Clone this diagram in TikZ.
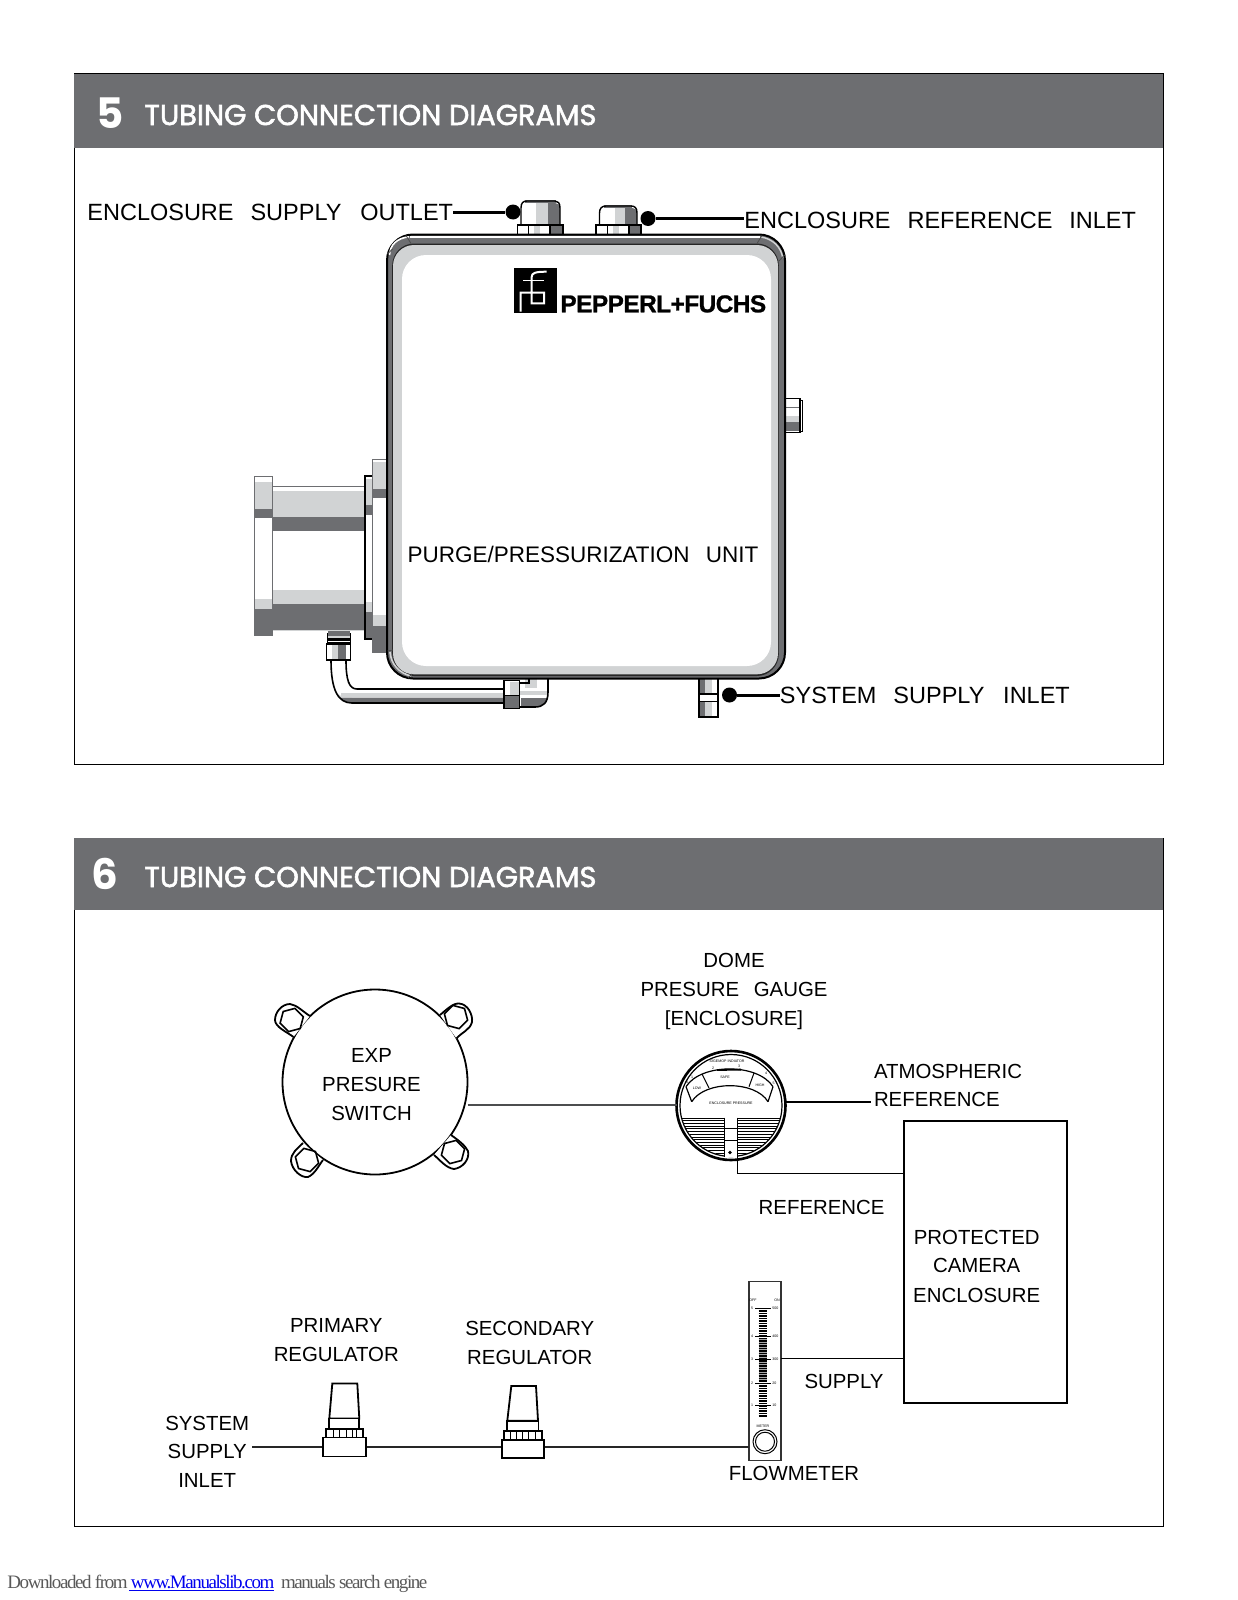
\documentclass[tikz,border=0pt]{standalone}
\usepackage{fontspec}
\setmainfont{Liberation Sans}
\newfontfamily\headfont{Poppins}
\newfontfamily\headfontB[FakeBold=2]{Poppins}
\newfontfamily\footfont{Liberation Serif}
\usetikzlibrary{calc}
\definecolor{dk}{HTML}{6D6E71}
\definecolor{lt}{HTML}{D1D3D4}
\definecolor{linkblue}{HTML}{0000EE}
\newcommand\Wsp{\hspace{0.72em}}
\newcommand\bnd[5]{\fill[#5] (#1,#3) rectangle (#2,#4);}
\tikzset{
  lbl/.style={font=\fontsize{10.2}{12}\selectfont,inner sep=0pt,text=black,align=center},
  lbll/.style={lbl,anchor=west,align=left},
  lbltop/.style={lbll,font=\fontsize{11.75}{14}\selectfont},
  framebox/.style={draw=black,line width=0.5pt},
  headbar/.style={fill=dk,draw=none},
  headt/.style={font=\headfontB\fontsize{14.35}{16}\selectfont,text=white,anchor=west,inner sep=0pt},
  headn/.style={font=\headfont\bfseries\fontsize{21}{24}\selectfont,text=white,anchor=center,inner sep=0pt},
  callout/.style={draw=black,line width=1.5pt},
  dotmark/.style={circle,fill=black,minimum size=7.5pt,inner sep=0pt},
  tube/.style={draw=black,line width=0.8pt},
  thin/.style={draw=black,line width=0.55pt},
  pipe/.style={draw=black!85,line width=1.3pt},
  part/.style={draw=black,line width=0.9pt,fill=white},
  tiny/.style={font=\fontsize{1.8}{2.2}\selectfont,inner sep=0pt,text=black},
}
\begin{document}
\begin{tikzpicture}[x=0.5pt,y=-0.5pt]
\path[use as bounding box,fill=white] (0,0) rectangle (1237,1600);

% ---------- frames
\draw[framebox] (74,74) rectangle (1163,764.5);
\fill[headbar] (74,74) rectangle (1163,148);
\node[headn] (n5) at (110.5,113.5) {5};
\node[headt] (t5) at (144,115) {TUBING CONNECTION DIAGRAMS};
\draw[framebox] (74,838) rectangle (1163,1526.5);
\fill[headbar] (74,838) rectangle (1163,910);
\node[headn] (n6) at (105,874) {6};
\node[headt] (t6) at (144,877) {TUBING CONNECTION DIAGRAMS};

% ---------- unit: left mounting parts
\bnd{254.5}{272.7}{476.8}{635.7}{white}
\bnd{254.5}{272.7}{481.5}{508.6}{lt}
\bnd{254.5}{272.7}{508.6}{518}{dk}
\bnd{254.5}{272.7}{598.5}{608.7}{lt}
\bnd{254.5}{272.7}{608.7}{635.7}{dk}
\draw[dk,line width=0.6pt] (254.5,476.8) rectangle (272.7,635.7);
\bnd{272.7}{365}{486}{631.3}{white}
\bnd{272.7}{365}{491}{517}{lt}
\bnd{272.7}{365}{517}{530.9}{dk}
\bnd{272.7}{365}{590}{604.3}{lt}
\bnd{272.7}{365}{604.3}{629.6}{dk}
\bnd{272.7}{365}{629.6}{631.3}{lt}
\draw[dk,line width=0.5pt] (272.7,486) -- (365,486);
\bnd{365}{372.7}{476}{639}{white}
\bnd{365}{372.7}{479}{505.2}{lt}
\bnd{365}{372.7}{505.2}{515.3}{dk}
\bnd{365}{372.7}{601.9}{612}{lt}
\bnd{365}{372.7}{612}{639}{dk}
\draw[black,line width=0.7pt] (365,476) rectangle (372.7,639);
\bnd{372.7}{387}{459.2}{652.3}{white}
\bnd{372.7}{387}{462.2}{488.6}{lt}
\bnd{372.7}{387}{488.6}{498.4}{dk}
\bnd{372.7}{387}{615.4}{625.6}{lt}
\bnd{372.7}{387}{625.6}{652.3}{dk}
\draw[dk,line width=0.6pt] (372.7,459.2) rectangle (387,652.3);

% ---------- unit: tube and fittings below
\fill[white] (331,660) .. controls (331,690) and (338,703) .. (352,703) -- (504,703) -- (504,689) -- (357,689) .. controls (349,689) and (346,680) .. (346,660) -- cycle;
\fill[lt] (341,693) -- (504,693) -- (504,697) -- (341,697) -- cycle;
\fill[lt] (335,690) .. controls (338,696) and (343,698) .. (352,697) -- (340,697) -- cycle;
\fill[dk] (340,697.5) -- (504,697.5) -- (504,703) -- (352,703) .. controls (346,703) and (342,701) .. (340,697.5) -- cycle;
\draw[tube] (331,660) .. controls (331,690) and (338,703) .. (352,703) -- (504,703);
\draw[tube] (346,660) .. controls (346,680) and (349,689) .. (357,689) -- (504,689);
\bnd{327.5}{350}{631}{636}{dk}
\bnd{327.5}{350}{636}{638}{lt}
\bnd{327.5}{350}{638}{640.5}{black}
\bnd{327.5}{350}{640.5}{642}{white}
\bnd{327.5}{350}{642}{644}{black}
\bnd{326.5}{350.5}{644}{660}{white}
\bnd{332}{338}{644}{660}{lt}
\bnd{338}{346}{644}{660}{dk}
\draw[black,line width=0.7pt] (326.5,644) rectangle (350.5,660);
\draw[black,line width=0.5pt] (327.5,633) -- (327.5,644) (350,633) -- (350,644);

% elbow
\fill[white] (519,679) -- (548,679) -- (548,692) .. controls (548,703) and (543,707) .. (535,707) -- (519,707) -- cycle;
\fill[lt] (525,679) rectangle (537,688);
\fill[lt] (519,691) -- (547,691) -- (547,695) -- (519,695) -- cycle;
\fill[dk] (521,698) -- (547.5,698) .. controls (546,703) and (542,706.5) .. (535,706.5) -- (521,706.5) -- cycle;
\draw[tube] (548,679) -- (548,692) .. controls (548,703) and (543,707) .. (535,707) -- (519,707);
\draw[black,line width=1pt] (519,683) -- (529,683) -- (529,679);
\bnd{504}{519.3}{680.5}{708.5}{white}
\bnd{510}{519.3}{682}{695}{lt}
\bnd{504}{519.3}{695}{708.5}{dk}
\draw[black,line width=0.7pt] (504,680.5) rectangle (519.3,708.5);
\draw[black,line width=0.5pt] (504,695) -- (519.3,695);

% bottom fitting
\bnd{699}{718}{679}{717}{white}
\bnd{699}{705}{679}{693}{dk}
\bnd{705}{712}{679}{693}{lt}
\bnd{699}{705}{702}{717}{dk}
\bnd{705}{712}{702}{717}{lt}
\bnd{699}{718}{695.5}{700}{white}
\draw[black,line width=0.6pt] (699,679) -- (699,717) -- (718,717) -- (718,679);
\draw[black,line width=0.9pt] (699,694) -- (718,694) (699,701.5) -- (718,701.5);

% side nub
\bnd{786}{800}{398}{433}{white}
\bnd{786}{800}{416}{422}{lt}
\bnd{786}{800}{422}{431}{dk}
\draw[dk,line width=0.4pt] (786,407) -- (800,407);
\draw[black,line width=0.7pt] (786,398.5) -- (800,398.5) -- (800,432.5) -- (786,432.5);
\draw[black,line width=0.4pt] (800,400) -- (802,400) -- (802,431) -- (800,431);

% ---------- unit: glands on top
\fill[white] (521,225) -- (521,208) .. controls (521,203) and (523,201) .. (527,201) -- (555,201) .. controls (558,201) and (560,203) .. (560,208) -- (560,225) -- cycle;
\fill[lt] (536,203) rectangle (548,225);
\fill[dk] (548,203) -- (555,203) .. controls (558,203) and (560,205) .. (560,208) -- (560,225) -- (548,225) -- cycle;
\fill[dk] (525,200) rectangle (556,203);
\draw[black,line width=0.7pt] (521,225) -- (521,208) .. controls (521,203) and (523,201) .. (527,201) -- (555,201) .. controls (558,201) and (560,203) .. (560,208) -- (560,225);
\bnd{517.5}{563}{225}{234}{white}
\bnd{550}{563}{225}{234}{dk}
\bnd{534}{540}{225}{234}{lt}
\draw[black,line width=0.6pt] (517.5,234) -- (517.5,225) -- (563,225) -- (563,234) (528.5,225) -- (528.5,234) (550,225) -- (550,234);

\fill[white] (599.5,225) -- (599.5,213) .. controls (599.5,208) and (602,206) .. (606,206) -- (631,206) .. controls (635,206) and (637,208) .. (637,213) -- (637,225) -- cycle;
\fill[lt] (615,208) rectangle (625,225);
\fill[dk] (625,208) -- (631,208) .. controls (635,208) and (637,210) .. (637,213) -- (637,225) -- (625,225) -- cycle;
\fill[dk] (604,205) rectangle (632,208);
\draw[black,line width=0.7pt] (599.5,225) -- (599.5,213) .. controls (599.5,208) and (602,206) .. (606,206) -- (631,206) .. controls (635,206) and (637,208) .. (637,213) -- (637,225);
\bnd{596}{641}{225}{234}{white}
\bnd{629}{641}{225}{234}{dk}
\bnd{613}{619}{225}{234}{lt}
\draw[black,line width=0.6pt] (596,234) -- (596,225) -- (641,225) -- (641,234) (607.5,225) -- (607.5,234) (629,225) -- (629,234);

% ---------- unit: enclosure body
\draw[fill=dk,draw=black,line width=1pt,rounded corners=13pt] (387,234.5) rectangle (785,678.5);
\fill[white] (410,236.3) rectangle (760,238.3);
\fill[black!85,rounded corners=11pt] (392.2,243.5) rectangle (778.8,676);
\fill[lt,rounded corners=10.5pt] (393,245) rectangle (778,674.3);
\fill[white,rounded corners=12pt] (402,255) rectangle (771,666);
\draw[white,line width=0.8pt] (389.5,255) .. controls (390,245) and (397,238) .. (409,236.8);
\draw[lt,line width=0.7pt] (761,237) .. controls (773,239) and (781,247) .. (782.8,258);
\draw[lt,line width=0.8pt] (390,652) .. controls (391,664) and (399,673) .. (411,676);
% corner seams
\draw[black!70,line width=0.4pt] (406,235.5) -- (411,243.5) (387.5,254) -- (392.5,249);
\draw[black!70,line width=0.4pt] (762,235.5) -- (757,243.5) (784.5,255) -- (779,261);
\draw[black!70,line width=0.4pt] (387.5,651) -- (393,650) (408,678) -- (412,674);

% ---------- unit: logo
\fill[black] (513.5,268) rectangle (556.7,313);
\draw[white,line width=1pt] (520.7,311.5) -- (520.7,292.5) -- (544,292.5) -- (544,303.3) -- (531.7,303.3) -- (531.7,277) .. controls (531.7,273) and (535,271.7) .. (546.7,271.7);
\draw[white,line width=0.9pt] (523,280.5) -- (544,280.5);
\node[inner sep=0pt,anchor=base west,font=\bfseries\fontsize{12.2}{15}\selectfont] (brand) at (560,312.3) {\addfontfeature{LetterSpace=-2.2,FakeBold=1}PEPPERL+FUCHS};

% ---------- unit: labels
\coordinate (dotA) at (513,212);
\coordinate (dotB) at (648,218.5);
\coordinate (dotC) at (729.5,695);
\node[lbltop] (tA) at (87,212) {ENCLOSURE\Wsp SUPPLY\hspace{0.8em}OUTLET};
\node[lbltop] (tB) at (744,220.5) {ENCLOSURE\Wsp REFERENCE\Wsp INLET};
\node[lbltop] (tC) at (779.5,695) {SYSTEM\Wsp SUPPLY\hspace{0.8em}INLET};
\node[lbl,font=\fontsize{11.25}{14}\selectfont] (tU) at (583,554) {PURGE/PRESSURIZATION\Wsp UNIT};
\node[dotmark] (mA) at (dotA) {};
\node[dotmark] (mB) at (dotB) {};
\node[dotmark] (mC) at (dotC) {};
\draw[callout] (tA.east) -- (mA);
\draw[callout] (mB) -- (tB.west |- mB);
\draw[callout] (mC) -- (tC.west);

% ---------- switch
\node[circle,draw=black,line width=0.9pt,minimum size=92.5pt,inner sep=0pt] (sw) at (375,1082) {};
\foreach \p in {
 {(310,1016) .. controls (302,1011) and (297,1005) .. (290,1004) .. controls (282,1004) and (275,1012) .. (275,1020) .. controls (275,1027) and (287,1032) .. (293.5,1037)},
 {(440,1015) .. controls (446,1010) and (453,1003) .. (459,1003.5) .. controls (468,1004) and (473,1015) .. (472,1022) .. controls (470,1030) and (462,1032) .. (456.5,1038.5)},
 {(451,1135) .. controls (458,1140) and (465,1145) .. (468,1151) .. controls (470,1160) and (462,1168) .. (454,1169) .. controls (446,1168) and (440,1160) .. (434,1155)},
 {(303,1143) .. controls (297,1149) and (291,1153) .. (291,1161) .. controls (292,1170) and (301,1178) .. (308,1177) .. controls (315,1174) and (319,1165) .. (323,1160)}}{
  \fill[white] \p -- cycle;
  \draw[black,line width=0.9pt] \p;
}
\foreach \cx/\cy/\rot in {291.7/1020/15,456/1017/-15,453/1152/15,307/1160/-15}{
  \draw[black,line width=0.8pt,rotate around={\rot:(\cx,\cy)}] (\cx+12,\cy) -- (\cx+6,\cy+10.4) -- (\cx-6,\cy+10.4) -- (\cx-12,\cy) -- (\cx-6,\cy-10.4) -- (\cx+6,\cy-10.4) -- cycle;
}
\node[lbl] (ts1) at (371.5,1055.5) {EXP};
\node[lbl] (ts2) at (371.5,1084.3) {PRESURE};
\node[lbl] (ts3) at (371.5,1113.5) {SWITCH};

% ---------- gauge
\node[circle,draw=black,line width=1.3pt,fill=white,minimum size=54.5pt,inner sep=0pt] (g) at (731,1105.5) {};
\begin{scope}
\clip (731,1105.5) circle[radius=50.5];
\foreach \yy in {1118,1120.7,...,1160}{\draw[black,line width=0.35pt] (675,\yy) -- (785,\yy);}
\end{scope}
\draw[black,line width=0.6pt] (731,1105.5) circle[radius=51];
\draw[black,line width=0.6pt] (681,1118.5) -- (781,1118.5);
\fill[white] (724,1117.5) rectangle (737,1157);
\draw[black,line width=0.5pt] (724,1117.5) -- (724,1157) (737,1117.5) -- (737,1157) (724,1128) -- (737,1128) (724,1140) -- (737,1140);
\fill[black] (730,1152.5) circle[radius=1.8];
% dial
\draw[black,line width=0.6pt] (686,1086.7) .. controls (701,1063) and (758,1063) .. (773,1086.7);
\draw[black,line width=0.6pt] (691.7,1101.7) .. controls (705,1080.3) and (755,1080.3) .. (768,1101.7);
\draw[black,line width=0.6pt] (686,1086.7) -- (691.7,1101.7) (773,1086.7) -- (768,1101.7);
\draw[black,line width=0.5pt] (702,1074) -- (709,1088) (754,1073) -- (749,1086.7);
\draw[black,line width=0.9pt] (717,1070) -- (741,1069.6);
\node[tiny] (g0) at (727,1061) {IDGEMOP INDIATOR};
\node[tiny] (g1) at (725,1077) {SAFE};
\node[tiny] (g2) at (697,1088) {LOW};
\node[tiny] (g3) at (760,1085.5) {HIGH};
\node[tiny] (g4) at (731,1103) {ENCLOSURE PRESSURE};
\node[tiny] at (692,1077) {1};
\node[tiny] at (713,1068) {2};
\node[tiny] at (739,1066) {3};
\node[tiny] at (766,1073) {4};
\node[tiny] at (773.5,1083.5) {5};
\node[tiny] at (687,1082) {0};

\node[lbl] (dm1) at (734,960.5) {DOME};
\node[lbl] (dm2) at (734,989) {PRESURE\Wsp GAUGE};
\node[lbl] (dm3) at (734,1020) {[ENCLOSURE]};

% ---------- enclosure
\node[draw=black,line width=1pt,minimum width=81.5pt,minimum height=141pt,inner sep=0pt] (pc) at (985,1262) {};
\node[lbl] (pc1) at (976.7,1237) {PROTECTED};
\node[lbl] (pc2) at (976.7,1265.6) {CAMERA};
\node[lbl] (pc3) at (976.7,1295) {ENCLOSURE};

\node[lbll] (at1) at (873.6,1071) {ATMOSPHERIC};
\node[lbll] (at2) at (873.6,1099) {REFERENCE};
\node[lbl] (rf) at (821.6,1207.5) {REFERENCE};
\node[lbl] (sp) at (844,1381.5) {SUPPLY};
\node[lbl] (fm) at (794,1473) {FLOWMETER};
\node[lbl] (s1) at (529.7,1328) {SECONDARY};
\node[lbl] (s2) at (529.7,1357) {REGULATOR};
\node[lbl] (p1) at (336.3,1325) {PRIMARY};
\node[lbl] (p2) at (336.3,1354) {REGULATOR};
\node[lbl] (si1) at (207.2,1423) {SYSTEM};
\node[lbl] (si2) at (207.2,1451.5) {SUPPLY};
\node[lbl] (si3) at (207.2,1480) {INLET};

% ---------- flowmeter
\node[draw=black!80,line width=0.7pt,fill=white,minimum width=16pt,minimum height=89.5pt,inner sep=0pt] (fl) at (765,1371) {};
\fill[dk,opacity=0.6] (758.5,1338) rectangle (767,1381);
\foreach \yy in {1308.5,1311,...,1417}{\draw[black,line width=0.55pt] (758.5,\yy) -- (767,\yy);}
\foreach \yy/\a/\b in {1308/5/500,1336/4/400,1359.5/3/300,1383/2/20,1405/1/10}{
  \draw[black,line width=0.5pt] (755,\yy) -- (771,\yy);
  \node[tiny] at (752,\yy) {\a};
  \node[tiny,anchor=west] at (772,\yy) {\b};
}
\node[tiny] at (753,1300.5) {OFF};
\node[tiny] at (777,1300.5) {ON};
\node[tiny] at (763,1426) {METER};
\draw[black,line width=0.5pt] (765,1441.7) circle[radius=12];
\draw[black,line width=0.5pt] (765,1441.7) circle[radius=9.5];

% ---------- regulators
\draw[part] (332.3,1383.5) -- (357.3,1383.5) -- (359.3,1418.5) -- (329.3,1418.5) -- cycle;
\draw[part] (329.3,1418.5) rectangle (359.3,1429);
\draw[part] (326.3,1429) rectangle (362.7,1437.5);
\foreach \xx in {333,339,346,352,356}{\draw[black,line width=0.5pt] (\xx,1429) -- (\xx,1437.5);}
\node[part,minimum width=21.2pt,minimum height=9.5pt,inner sep=0pt] (r1) at (344.5,1447) {};
\draw[part] (511.3,1386) -- (536,1386) -- (538,1420.7) -- (507.3,1420.7) -- cycle;
\draw[part] (507.3,1420.7) rectangle (538.5,1431.3);
\draw[part] (504.3,1431.3) rectangle (541.7,1440.3);
\foreach \xx in {510,516,522,528,535}{\draw[black,line width=0.5pt] (\xx,1431.3) -- (\xx,1440.3);}
\node[part,minimum width=20.7pt,minimum height=9pt,inner sep=0pt] (r2) at (523,1449.3) {};

% ---------- connectors
\coordinate (swo) at (467.5,1105);
\coordinate (gl) at (677,1105);
\coordinate (gr) at (786,1102);
\coordinate (gb) at (737.5,1157);
\coordinate (fr) at (781,1358.5);
\coordinate (fl2) at (749,1447);
\coordinate (mainstart) at (252,1447);
\coordinate (atmend) at (871,1102);
\draw[thin,draw=dk!70!black] (swo) -- (gl);
\draw[thin] (gr) -- (atmend);
\draw[thin] (gb) |- (pc.west |- 0,1173.5);
\draw[thin] (fr) -- (pc.west |- fr);
\draw[pipe] (mainstart) -- (r1.west);
\draw[pipe] (r1.east) -- (r2.west |- r1.east);
\draw[pipe] (r2.east |- r1.east) -- (fl2);

% ---------- footer
\node[inner sep=0pt,anchor=base west,font=\footfont\fontsize{9.5}{11}\selectfont,text=black!65] (foot) at (7,1588.5) {\addfontfeature{LetterSpace=-7.5}Downloaded from \textcolor{linkblue}{www.Manualslib.com}\ \ manuals search engine};
\draw[linkblue,line width=0.4pt] (129,1590.5) -- (273.5,1590.5);
\end{tikzpicture}
\end{document}
